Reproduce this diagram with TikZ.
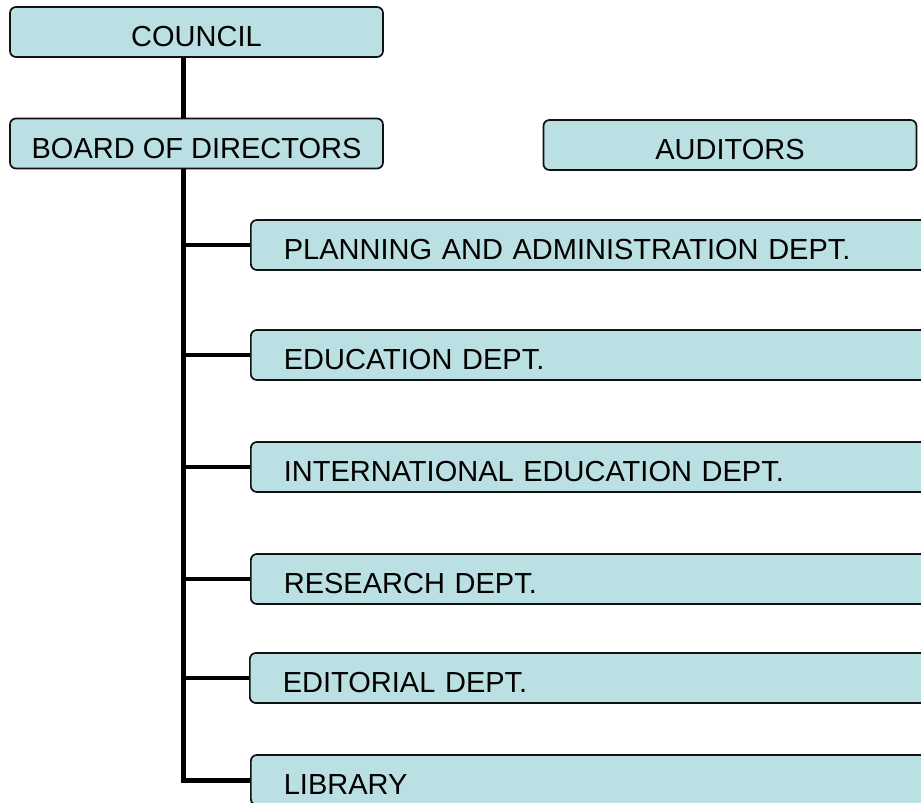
\documentclass[tikz,border=0pt]{standalone}
\usepackage{fontspec}
\setmainfont{Liberation Sans}
\definecolor{boxfill}{HTML}{BBE0E3}
\definecolor{boxline}{HTML}{111111}
\begin{document}
\begin{tikzpicture}[x=1pt,y=-1pt,
  box/.style={draw=boxline, line width=1.7pt, fill=boxfill, rounded corners=6pt,
    inner sep=0pt, minimum height=50pt, text height=29pt, text depth=0pt,
    font=\fontsize{29}{34}\selectfont},
  topbox/.style={box, minimum width=373pt},
  deptbox/.style={box, anchor=west, minimum width=720pt, text width=654pt,
    inner xsep=33pt, align=left},
  link/.style={line width=5pt, black, line join=miter},
  branch/.style={line width=4.3pt, black}]
\useasboundingbox (0,0) rectangle (921,803);
\clip (0,0) rectangle (921,803);
\node[topbox] (council) at (196.5,32) {COUNCIL};
\node[topbox] (board) at (196.5,143.5) {BOARD OF DIRECTORS};
\node[topbox] (auditors) at (730,145) {AUDITORS};
\node[deptbox] (plan) at (250,245) {PLANNING AND ADMINISTRATION DEPT.};
\node[deptbox] (edu) at (250,355) {EDUCATION DEPT.};
\node[deptbox] (intl) at (250,467) {INTERNATIONAL EDUCATION DEPT.};
\node[deptbox] (res) at (250,579) {RESEARCH DEPT.};
\node[deptbox] (edit) at (249,678) {EDITORIAL DEPT.};
\node[deptbox] (library) at (250,780) {LIBRARY};
\coordinate (trunk) at (183,0);
\draw[link] (council.south -| trunk) -- (board.north -| trunk);
\draw[link] (board.south -| trunk) -- (trunk |- library.west) -- (library.west);
\foreach \d in {plan,edu,intl,res,edit}
  \draw[branch] (trunk |- \d.west) -- (\d.west);
\end{tikzpicture}
\end{document}
